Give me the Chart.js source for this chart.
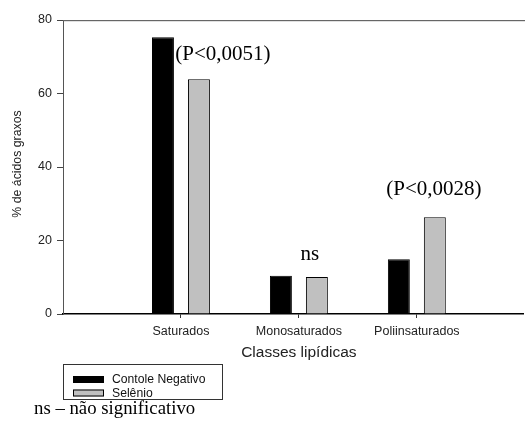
<!DOCTYPE html>
<html>
<head>
<meta charset="utf-8">
<script src="https://cdn.jsdelivr.net/npm/chart.js@4/dist/chart.umd.min.js"></script>
<style>
  html, body { margin: 0; padding: 0; background: #fff; }
  #wrap { width: 525px; height: 433px; position: relative; }
</style>
</head>
<body>
<div id="wrap"><canvas id="c" width="525" height="433"></canvas></div>
<script>
// Lipid classes and fatty-acid percentages per treatment
const categories = ['Saturados', 'Monosaturados', 'Poliinsaturados'];
const controlLabel = 'Contole Negativo';
const seleniumLabel = 'Selênio';
const controlValues = [75.3, 10.4, 14.9];
const seleniumValues = [63.9, 10.1, 26.3];
const yTicks = [0, 20, 40, 60, 80];
const significance = ['(P<0,0051)', 'ns', '(P<0,0028)'];
const xTitle = 'Classes lipídicas';
const yTitle = '% de ácidos graxos';
const footnote = 'ns – não significativo';

const SANS = '"Liberation Sans", Arial, sans-serif';
const SERIF = '"Liberation Serif", "Times New Roman", serif';

const toPoints = vals => vals.map((v, i) => ({ x: i + 1, y: v }));

// Extra drawing: frame top line, axis titles, p-value labels, boxed legend, footnote
const decorations = {
  id: 'decorations',
  afterDatasetsDraw(chart) {
    const { ctx, chartArea, scales } = chart;
    ctx.save();

    // top frame line
    const yTop = Math.round(scales.y.getPixelForValue(yTicks[yTicks.length - 1]));
    ctx.fillStyle = '#666';
    ctx.fillRect(chartArea.left, yTop, chart.width - chartArea.left, 1.2);

    // axis titles
    ctx.fillStyle = '#222';
    ctx.font = '15.5px ' + SANS;
    ctx.textAlign = 'center';
    ctx.textBaseline = 'middle';
    ctx.fillText(xTitle, scales.x.getPixelForValue(2), 353);

    ctx.save();
    ctx.translate(18, (chartArea.top + chartArea.bottom) / 2 - 3);
    ctx.rotate(-Math.PI / 2);
    ctx.font = '12.3px ' + SANS;
    ctx.fillText(yTitle, 0, 0);
    ctx.restore();

    // significance labels above each group
    const metaSel = chart.getDatasetMeta(1);
    const dx = [24, -7, -1];
    const dy = [19, 17, 22];
    ctx.font = '21px ' + SERIF;
    ctx.fillStyle = '#000';
    ctx.textBaseline = 'alphabetic';
    significance.forEach((t, i) => {
      const bar = metaSel.data[i];
      ctx.fillText(t, bar.x + dx[i], bar.y - dy[i]);
    });

    // legend box
    const lx = 63, ly = 364, lw = 159, lh = 35;
    ctx.strokeStyle = '#333';
    ctx.lineWidth = 1;
    ctx.strokeRect(lx + 0.5, ly + 0.5, lw, lh);
    const rows = [376, 389.5];
    chart.data.datasets.forEach((ds, i) => {
      const sy = rows[i];
      ctx.fillStyle = ds.backgroundColor;
      ctx.fillRect(73, sy, 31, 7);
      ctx.strokeStyle = '#000';
      ctx.strokeRect(73.5, sy + 0.5, 30, 6);
      ctx.fillStyle = '#111';
      ctx.font = '12.2px ' + SANS;
      ctx.textAlign = 'left';
      ctx.textBaseline = 'middle';
      ctx.fillText(ds.label, 112, sy + 4);
    });

    // footnote
    ctx.font = '18.8px ' + SERIF;
    ctx.fillStyle = '#000';
    ctx.textAlign = 'left';
    ctx.textBaseline = 'alphabetic';
    ctx.fillText(footnote, 34, 414);

    ctx.restore();
  }
};

new Chart(document.getElementById('c'), {
  type: 'bar',
  data: {
    datasets: [
      {
        label: controlLabel,
        data: toPoints(controlValues),
        backgroundColor: '#000000',
        borderColor: '#000000',
        borderWidth: 1
      },
      {
        label: seleniumLabel,
        data: toPoints(seleniumValues),
        backgroundColor: '#c0c0c0',
        borderColor: '#000000',
        borderWidth: 1
      }
    ]
  },
  options: {
    responsive: false,
    animation: false,
    devicePixelRatio: 1,
    categoryPercentage: 0.61,
    barPercentage: 0.61,
    layout: { padding: { top: 20, right: 2, left: 0, bottom: 0 } },
    plugins: {
      legend: { display: false },
      tooltip: { enabled: false },
      title: { display: false }
    },
    scales: {
      x: {
        type: 'linear',
        offset: false,
        min: 0,
        max: 3.9,
        afterBuildTicks: s => { s.ticks = categories.map((c, i) => ({ value: i + 1 })); },
        afterFit: s => { s.height = 119; },
        ticks: {
          callback: v => categories[v - 1] || '',
          font: { family: SANS, size: 12.5 },
          color: '#222',
          padding: 6,
          maxRotation: 0,
          autoSkip: false
        },
        grid: {
          offset: false,
          drawOnChartArea: false,
          drawTicks: true,
          tickLength: 4,
          color: '#333'
        },
        border: { color: '#000', width: 1.5 }
      },
      y: {
        min: 0,
        max: 80,
        afterBuildTicks: s => { s.ticks = yTicks.map(v => ({ value: v })); },
        afterFit: s => { s.width = 63; },
        ticks: {
          font: { family: SANS, size: 12.5 },
          color: '#222',
          padding: 5
        },
        grid: {
          drawOnChartArea: false,
          drawTicks: true,
          tickLength: 6,
          color: '#444'
        },
        border: { color: '#555', width: 1 }
      }
    }
  },
  plugins: [decorations]
});
</script>
</body>
</html>
